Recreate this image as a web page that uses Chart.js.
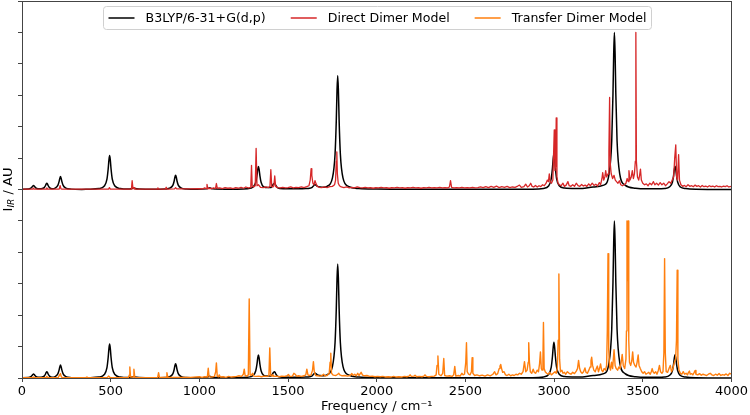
<!DOCTYPE html>
<html>
<head>
<meta charset="utf-8">
<script src="https://cdn.jsdelivr.net/npm/chart.js@4.4.0/dist/chart.umd.min.js"></script>
<style>html,body{margin:0;padding:0;background:#fff;}canvas{display:block;}</style>
</head>
<body>
<canvas id="c" width="750" height="415" style="width:750px;height:415px"></canvas>
<script>
// ---------------- data ----------------
const seriesLabels = ['B3LYP/6-31+G(d,p)', 'Direct Dimer Model', 'Transfer Dimer Model'];
const seriesColors = ['#000000', '#d62728', '#ff7f0e'];
const xTicks = [0, 500, 1000, 1500, 2000, 2500, 3000, 3500, 4000];
const topOffset = 6;

// B3LYP/6-31+G(d,p) broadened spectrum [frequency, intensity]
const b3lyp = [
 [0,0.01],[35,0.013],[50,0.04],[57,0.08],[61,0.11],[65,0.13],[69,0.11],[73,0.08],[80,0.04],[100,0.02],
 [110,0.025],[125,0.06],[132,0.12],[136,0.17],[140,0.2],[144,0.17],[148,0.12],[155,0.06],[170,0.025],
 [187,0.045],[202,0.13],[209,0.25],[213,0.35],[217,0.41],[221,0.35],[225,0.25],[232,0.13],[247,0.045],[277,0.012],[337,0.003],
 [374,0.01],[434,0.03],[464,0.11],[479,0.33],[486,0.66],[490,0.93],[494,1.08],[498,0.93],[502,0.66],[509,0.33],[524,0.11],[554,0.03],[600,0.012],
 [620,0.03],[628,0.045],[636,0.03],[660,0.012],
 [746,0.005],[806,0.015],[836,0.05],[851,0.14],[858,0.27],[862,0.39],[866,0.45],[870,0.39],[874,0.27],[881,0.14],[896,0.05],[926,0.015],[986,0.006],
 [1040,0.02],[1050,0.04],[1057,0.055],[1064,0.04],[1075,0.02],[1150,0.01],
 [1213,0.01],[1273,0.025],[1303,0.08],[1318,0.23],[1325,0.45],[1329,0.63],[1333,0.73],[1337,0.63],[1341,0.45],[1348,0.23],[1363,0.08],[1385,0.06],
 [1400,0.06],[1408,0.09],[1415,0.15],[1419,0.18],[1423,0.2],[1427,0.18],[1431,0.13],[1438,0.07],[1453,0.03],[1500,0.02],
 [1600,0.03],[1621,0.04],[1636,0.07],[1643,0.11],[1647,0.14],[1651,0.16],[1655,0.15],[1659,0.13],[1666,0.1],[1681,0.08],[1700,0.07],
 [1720,0.1],[1750,0.36],[1765,1.12],[1772,2.2],[1776,3.13],[1780,3.63],[1784,3.13],[1788,2.2],[1795,1.12],[1810,0.36],[1840,0.1],[1900,0.03],[2000,0.012],[2200,0.005],
 [2700,0.005],[2880,0.01],[2940,0.035],[2969,0.11],[2984,0.35],[2991,0.7],[2995,0.98],[2999,1.14],[3003,0.98],[3007,0.7],[3014,0.35],[3029,0.12],[3059,0.045],[3120,0.03],
 [3160,0.035],[3220,0.08],[3280,0.14],[3310,0.5],[3325,1.55],[3332,3.05],[3336,4.3],[3340,5.0],[3344,4.3],[3348,3.05],[3355,1.55],[3370,0.5],[3400,0.14],[3460,0.04],[3520,0.02],
 [3580,0.02],[3622,0.03],[3652,0.09],[3667,0.23],[3674,0.46],[3678,0.64],[3682,0.74],[3686,0.64],[3690,0.46],[3697,0.23],[3712,0.08],[3742,0.03],[3800,0.01],[4000,0.003]
];

// Direct Dimer Model spectrum [frequency, intensity]
const directDimer = [
 [0,0.01],[60,0.01],[64,0.04],[68,0.01],[136,0.01],[140,0.05],[144,0.01],[210,0.01],[215,0.12],[220,0.02],[226,0.01],
 [488,0.01],[493,0.06],[498,0.01],[617,0.01],[621,0.28],[626,0.02],[632,0.06],[636,0.01],[700,0.01],[762,0.01],[766,0.05],[770,0.01],
 [808,0.01],[813,0.07],[818,0.01],[860,0.02],[866,0.06],[872,0.02],[950,0.02],[1000,0.03],
 [1020,0.02],[1030,0.05],[1038,0.03],[1043,0.16],[1048,0.03],[1060,0.04],[1070,0.03],[1080,0.05],[1091,0.03],[1096,0.19],[1101,0.04],
 [1115,0.05],[1130,0.03],[1145,0.06],[1160,0.04],[1175,0.05],[1190,0.03],[1205,0.06],[1220,0.04],[1235,0.07],[1250,0.04],[1262,0.08],
 [1275,0.05],[1286,0.06],[1290,0.1],[1294,0.77],[1298,0.1],[1306,0.08],[1315,0.12],[1320,1.31],[1325,0.12],[1333,0.15],[1345,0.07],
 [1360,0.06],[1375,0.08],[1390,0.06],[1398,0.1],[1403,0.63],[1408,0.1],[1414,0.08],[1420,0.12],[1425,0.43],[1430,0.1],[1440,0.06],
 [1455,0.05],[1470,0.07],[1485,0.05],[1500,0.06],[1515,0.08],[1530,0.05],[1545,0.07],[1560,0.06],[1575,0.08],[1590,0.06],[1605,0.09],
 [1618,0.12],[1625,0.3],[1630,0.66],[1634,0.45],[1640,0.2],[1646,0.15],[1652,0.28],[1658,0.18],[1665,0.1],[1675,0.07],[1690,0.06],
 [1705,0.08],[1720,0.06],[1735,0.09],[1750,0.1],[1762,0.15],[1768,0.3],[1772,0.9],[1775,1.2],[1778,0.5],[1783,0.2],[1790,0.12],
 [1800,0.08],[1815,0.06],[1830,0.08],[1845,0.05],[1860,0.07],[1875,0.05],[1890,0.08],[1905,0.06],[1920,0.05],[1935,0.07],[1950,0.05],
 [1965,0.06],[1980,0.04],[1995,0.06],[2010,0.05],[2025,0.07],[2040,0.05],[2055,0.06],[2070,0.04],[2085,0.06],[2100,0.05],[2115,0.07],
 [2130,0.05],[2145,0.06],[2160,0.04],[2175,0.06],[2190,0.05],[2205,0.07],[2220,0.05],[2235,0.06],[2250,0.04],[2265,0.06],[2280,0.05],
 [2295,0.07],[2310,0.05],[2325,0.06],[2340,0.05],[2355,0.07],[2370,0.05],[2385,0.06],[2400,0.05],[2410,0.08],[2416,0.28],[2422,0.07],
 [2435,0.05],[2450,0.06],[2465,0.05],[2480,0.07],[2495,0.05],[2510,0.06],[2525,0.05],[2540,0.07],[2555,0.05],[2570,0.06],[2585,0.08],
 [2600,0.06],[2615,0.09],[2630,0.06],[2645,0.1],[2660,0.07],[2675,0.11],[2690,0.06],[2705,0.09],[2720,0.07],[2735,0.1],[2750,0.06],
 [2765,0.08],[2780,0.07],[2795,0.11],[2805,0.14],[2815,0.07],[2830,0.09],[2840,0.17],[2850,0.08],[2860,0.12],[2868,0.2],[2876,0.1],
 [2885,0.08],[2895,0.13],[2905,0.08],[2915,0.12],[2925,0.09],[2935,0.15],[2945,0.12],[2955,0.2],[2962,0.3],[2968,0.25],[2973,0.5],
 [2978,0.25],[2985,0.2],[2993,0.3],[3001,1.9],[3005,0.6],[3009,0.8],[3012,2.28],[3016,0.4],[3022,0.2],[3030,0.15],[3040,0.12],
 [3050,0.2],[3058,0.1],[3068,0.14],[3078,0.25],[3085,0.12],[3095,0.1],[3105,0.15],[3115,0.1],[3125,0.2],[3135,0.12],[3145,0.1],
 [3155,0.16],[3165,0.11],[3175,0.14],[3185,0.1],[3195,0.18],[3205,0.12],[3215,0.2],[3225,0.13],[3235,0.17],[3245,0.11],[3255,0.22],
 [3262,0.15],[3270,0.35],[3274,0.54],[3280,0.3],[3286,0.4],[3291,0.6],[3296,0.4],[3304,0.5],[3309,1.2],[3313,2.93],[3317,0.8],
 [3322,0.5],[3330,0.35],[3338,0.45],[3345,0.3],[3352,0.25],[3360,0.2],[3368,0.28],[3376,0.15],[3385,0.12],[3395,0.15],[3405,0.2],
 [3412,0.35],[3418,0.25],[3422,0.6],[3428,0.3],[3435,0.4],[3441,0.6],[3447,0.35],[3453,0.5],[3458,0.9],[3461,5.0],[3464,0.9],
 [3470,0.4],[3477,0.3],[3482,0.45],[3487,0.65],[3492,0.3],[3500,0.2],[3510,0.15],[3520,0.18],[3530,0.12],[3540,0.2],[3550,0.15],
 [3560,0.25],[3568,0.15],[3578,0.2],[3588,0.14],[3598,0.22],[3608,0.15],[3618,0.2],[3628,0.12],[3638,0.18],[3648,0.25],[3658,0.2],
 [3666,0.3],[3674,0.4],[3680,1.0],[3686,1.42],[3691,0.4],[3696,0.3],[3702,1.11],[3707,0.3],[3715,0.15],[3725,0.1],[3735,0.13],
 [3745,0.09],[3755,0.15],[3765,0.1],[3775,0.12],[3785,0.09],[3795,0.14],[3805,0.1],[3815,0.12],[3825,0.08],[3835,0.13],[3845,0.09],
 [3855,0.11],[3865,0.08],[3875,0.12],[3885,0.09],[3895,0.11],[3905,0.08],[3915,0.12],[3925,0.09],[3935,0.1],[3945,0.08],[3955,0.11],
 [3965,0.09],[3975,0.12],[3985,0.08],[4000,0.1]
];

// Transfer Dimer Model spectrum [frequency, intensity]
const transferDimer = [
 [0,0.01],[60,0.01],[65,0.03],[70,0.01],[135,0.01],[140,0.05],[145,0.01],[205,0.02],[212,0.1],[217,0.14],[222,0.03],[230,0.01],
 [360,0.01],[366,0.03],[372,0.01],[480,0.01],[488,0.06],[496,0.02],[520,0.01],[600,0.02],[606,0.1],[608,0.35],[612,0.03],[626,0.03],
 [631,0.28],[636,0.02],[700,0.01],[765,0.02],[770,0.17],[775,0.02],[812,0.02],[817,0.17],[822,0.02],[870,0.02],[950,0.02],[1000,0.04],
 [1015,0.02],[1030,0.04],[1045,0.03],[1050,0.31],[1055,0.04],[1070,0.03],[1085,0.05],[1092,0.2],[1096,0.48],[1101,0.05],[1108,0.04],
 [1112,0.1],[1118,0.03],[1135,0.04],[1150,0.02],[1165,0.05],[1180,0.03],[1195,0.04],[1210,0.05],[1225,0.07],[1238,0.05],[1248,0.12],
 [1253,0.28],[1258,0.08],[1268,0.06],[1276,0.1],[1281,2.52],[1286,0.1],[1292,0.08],[1300,0.15],[1306,0.06],[1320,0.05],[1335,0.06],
 [1350,0.04],[1365,0.06],[1380,0.05],[1392,0.07],[1397,0.96],[1402,0.08],[1410,0.06],[1414,0.11],[1420,0.05],[1435,0.06],[1450,0.04],
 [1465,0.06],[1480,0.05],[1495,0.07],[1502,0.11],[1510,0.05],[1525,0.06],[1533,0.15],[1540,0.12],[1548,0.06],[1560,0.07],[1575,0.05],
 [1590,0.07],[1600,0.1],[1606,0.28],[1612,0.1],[1620,0.08],[1630,0.1],[1638,0.25],[1643,0.52],[1648,0.2],[1656,0.08],[1665,0.07],
 [1680,0.06],[1692,0.08],[1700,0.12],[1708,0.07],[1720,0.08],[1732,0.15],[1737,0.5],[1741,0.79],[1745,0.15],[1755,0.09],[1770,0.08],
 [1780,0.12],[1786,0.15],[1792,0.1],[1805,0.07],[1820,0.08],[1835,0.06],[1850,0.08],[1860,0.14],[1866,0.08],[1876,0.12],[1884,0.07],
 [1893,0.15],[1900,0.08],[1912,0.18],[1920,0.09],[1932,0.07],[1945,0.08],[1960,0.05],[1975,0.06],[1990,0.04],[2005,0.05],[2020,0.04],
 [2035,0.05],[2050,0.03],[2065,0.04],[2080,0.03],[2095,0.05],[2110,0.03],[2125,0.04],[2140,0.03],[2155,0.05],[2170,0.04],[2182,0.06],
 [2188,0.1],[2195,0.05],[2210,0.06],[2216,0.09],[2225,0.04],[2240,0.05],[2255,0.04],[2266,0.06],[2272,0.1],[2280,0.05],[2295,0.04],
 [2310,0.05],[2325,0.06],[2335,0.1],[2340,0.4],[2345,0.7],[2350,0.12],[2362,0.07],[2372,0.15],[2378,0.62],[2383,0.08],[2395,0.06],
 [2410,0.07],[2425,0.05],[2434,0.1],[2440,0.37],[2446,0.06],[2460,0.08],[2470,0.06],[2480,0.15],[2487,0.1],[2495,0.12],[2502,0.5],
 [2506,1.12],[2510,0.2],[2518,0.12],[2526,0.1],[2534,0.2],[2538,0.65],[2542,0.15],[2552,0.08],[2565,0.1],[2580,0.07],[2595,0.09],
 [2610,0.06],[2625,0.1],[2640,0.07],[2655,0.12],[2665,0.2],[2672,0.1],[2682,0.14],[2690,0.3],[2695,0.38],[2699,0.43],[2704,0.3],
 [2710,0.18],[2718,0.2],[2726,0.1],[2735,0.08],[2745,0.12],[2755,0.07],[2765,0.1],[2775,0.08],[2785,0.12],[2795,0.1],[2805,0.15],
 [2815,0.12],[2825,0.2],[2833,0.52],[2840,0.2],[2848,0.25],[2854,0.5],[2857,1.12],[2861,0.5],[2866,0.2],[2874,0.15],[2882,0.28],
 [2888,0.18],[2896,0.15],[2905,0.25],[2912,0.2],[2918,0.45],[2923,0.83],[2928,0.3],[2932,0.25],[2937,0.6],[2940,1.77],[2944,0.3],
 [2950,0.2],[2958,0.15],[2966,0.12],[2975,0.18],[2985,0.1],[2995,0.15],[3005,0.2],[3012,0.15],[3018,0.3],[3023,1.2],[3027,3.31],
 [3031,0.6],[3036,0.2],[3044,0.25],[3050,0.15],[3058,0.18],[3066,0.12],[3075,0.2],[3085,0.15],[3095,0.12],[3105,0.18],[3115,0.14],
 [3125,0.22],[3132,0.3],[3138,0.56],[3144,0.3],[3150,0.2],[3158,0.15],[3166,0.2],[3174,0.32],[3180,0.18],[3188,0.15],[3196,0.25],
 [3203,0.35],[3208,0.55],[3212,0.66],[3217,0.4],[3224,0.25],[3232,0.2],[3238,0.3],[3244,0.38],[3250,0.2],[3256,0.3],[3262,0.45],
 [3268,0.25],[3275,0.2],[3282,0.3],[3290,0.25],[3296,0.4],[3300,1.5],[3304,3.96],[3308,0.9],[3313,0.35],[3318,0.25],[3324,0.5],
 [3330,0.3],[3338,0.9],[3344,0.4],[3350,0.3],[3358,0.25],[3365,0.35],[3372,0.3],[3378,0.5],[3384,0.75],[3390,0.4],[3398,0.3],
 [3405,0.6],[3408,1.5],[3411,5.0],[3414,3.1],[3418,5.0],[3421,1.2],[3425,0.5],[3432,0.4],[3438,0.55],[3443,0.83],[3448,0.5],
 [3455,0.4],[3462,0.35],[3468,0.5],[3474,0.73],[3479,0.4],[3486,0.3],[3494,0.2],[3502,0.15],[3510,0.2],[3518,0.12],[3526,0.15],
 [3534,0.18],[3542,0.12],[3548,0.2],[3553,0.3],[3558,0.2],[3565,0.15],[3573,0.2],[3580,0.12],[3588,0.25],[3594,0.4],[3600,0.2],
 [3608,0.15],[3614,0.2],[3619,0.8],[3623,3.8],[3627,0.8],[3632,0.2],[3640,0.18],[3648,0.3],[3655,0.4],[3662,0.2],[3670,0.3],
 [3678,0.5],[3685,0.6],[3690,1.2],[3694,3.43],[3698,0.6],[3704,0.25],[3712,0.15],[3720,0.12],[3728,0.2],[3736,0.12],[3744,0.15],
 [3752,0.1],[3758,0.18],[3763,0.22],[3768,0.12],[3776,0.14],[3782,0.1],[3790,0.18],[3795,0.24],[3800,0.12],[3810,0.1],[3820,0.14],
 [3830,0.09],[3840,0.12],[3850,0.1],[3860,0.08],[3870,0.12],[3880,0.15],[3890,0.1],[3900,0.08],[3910,0.12],[3920,0.09],[3930,0.14],
 [3940,0.08],[3950,0.11],[3960,0.09],[3970,0.13],[3980,0.08],[3990,0.15],[4000,0.12]
];

// ---------------- chart ----------------
Chart.defaults.font.family = "'DejaVu Sans', sans-serif";
Chart.defaults.font.size = 13;
Chart.defaults.color = '#000';

const shift = (arr, d) => arr.map(p => [p[0], p[1] + d]);
const AXIS = '#444';

const decorPlugin = {
  id: 'decor',
  afterDatasetsDraw(chart) {
    const ctx = chart.ctx, a = chart.chartArea;
    const al = v => Math.round(v) + 0.5;
    ctx.save();
    ctx.strokeStyle = AXIS; ctx.lineWidth = 1;
    ctx.strokeRect(al(a.left), al(a.top), al(a.right) - al(a.left), al(a.bottom) - al(a.top));
    ctx.restore();
  },
  afterDraw(chart) {
    const ctx = chart.ctx, a = chart.chartArea;
    // legend
    ctx.save();
    ctx.font = "12.6px 'DejaVu Sans'";
    const handle = 26, hgap = 11, colgap = 25, pad = 5;
    const widths = seriesLabels.map(t => ctx.measureText(t).width);
    let total = pad * 2 + colgap * (seriesLabels.length - 1);
    widths.forEach(w => total += handle + hgap + w);
    const cx = (a.left + a.right) / 2;
    const bx = Math.round(cx - total / 2) + 0.5, by = Math.round(a.top + 5) + 0.5, bh = 23;
    ctx.beginPath();
    ctx.roundRect(bx, by, total, bh, 3);
    ctx.fillStyle = 'rgba(255,255,255,0.85)';
    ctx.fill();
    ctx.strokeStyle = '#d0d0d0'; ctx.lineWidth = 1; ctx.stroke();
    let x = bx + pad;
    const my = by + bh / 2;
    seriesLabels.forEach((t, i) => {
      ctx.beginPath();
      ctx.strokeStyle = seriesColors[i]; ctx.lineWidth = 1.5;
      ctx.moveTo(x, my); ctx.lineTo(x + handle, my); ctx.stroke();
      ctx.fillStyle = '#000'; ctx.textBaseline = 'middle'; ctx.textAlign = 'left';
      ctx.fillText(t, x + handle + hgap, my + 0.5);
      x += handle + hgap + widths[i] + colgap;
    });
    ctx.restore();

    // y axis title  I_IR / AU
    ctx.save();
    ctx.translate(9, (a.top + a.bottom) / 2);
    ctx.rotate(-Math.PI / 2);
    ctx.fillStyle = '#000';
    ctx.textBaseline = 'middle';
    ctx.textAlign = 'left';
    const fMain = "13px 'DejaVu Sans'", fSub = "italic 9px 'DejaVu Sans'";
    ctx.font = fMain; const w1 = ctx.measureText('I').width, w3 = ctx.measureText(' / AU').width;
    ctx.font = fSub; const w2 = ctx.measureText('IR').width;
    let sx = -(w1 + w2 + w3) / 2;
    ctx.font = fMain; ctx.fillText('I', sx, 0); sx += w1;
    ctx.font = fSub; ctx.fillText('IR', sx, 3); sx += w2;
    ctx.font = fMain; ctx.fillText(' / AU', sx, 0);
    ctx.restore();
  }
};

const smooth = { cubicInterpolationMode: 'monotone' };

new Chart(document.getElementById('c'), {
  type: 'line',
  data: {
    datasets: [
      { label: seriesLabels[1], data: shift(directDimer, topOffset), borderColor: seriesColors[1], borderWidth: 1.3, order: 1 },
      Object.assign({ label: seriesLabels[0], data: shift(b3lyp, topOffset), borderColor: seriesColors[0], borderWidth: 1.5, order: 2 }, smooth),
      { label: seriesLabels[2], data: transferDimer, borderColor: seriesColors[2], borderWidth: 1.4, order: 1 },
      Object.assign({ label: seriesLabels[0], data: b3lyp, borderColor: seriesColors[0], borderWidth: 1.5, order: 2 }, smooth)
    ]
  },
  options: {
    responsive: false,
    animation: false,
    devicePixelRatio: 1,
    layout: { padding: { top: 1, right: 16, left: 0, bottom: 0 } },
    elements: { point: { radius: 0 }, line: { tension: 0, fill: false, borderJoinStyle: 'round' } },
    plugins: { legend: { display: false }, tooltip: { enabled: false } },
    scales: {
      x: {
        type: 'linear', min: xTicks[0], max: xTicks[xTicks.length - 1],
        afterBuildTicks: s => { s.ticks = xTicks.map(v => ({ value: v })); },
        ticks: { callback: v => String(v), padding: 2, maxRotation: 0, color: '#000', font: { size: 13 } },
        grid: { drawOnChartArea: false, drawTicks: true, tickLength: 4, color: AXIS },
        border: { display: true, color: AXIS },
        title: { display: true, text: 'Frequency / cm\u207B\u00B9', color: '#000', font: { size: 13 }, padding: { top: 0, bottom: 1 } },
        afterFit: s => { s.height = 37; }
      },
      y: {
        type: 'linear', min: 0, max: 12,
        ticks: { stepSize: 1, display: false },
        grid: { drawOnChartArea: false, drawTicks: true, tickLength: 4, color: AXIS },
        border: { display: true, color: AXIS },
        afterFit: s => { s.width = 22; }
      }
    }
  },
  plugins: [decorPlugin]
});
</script>
</body>
</html>
